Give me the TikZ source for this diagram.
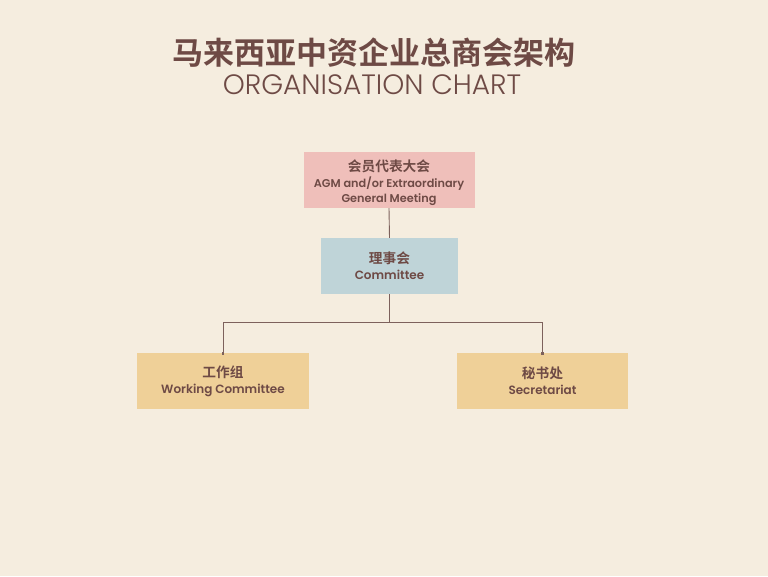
\documentclass[tikz,border=0pt]{standalone}
\usepackage{fontspec}
\usepackage{xcolor}
\usetikzlibrary{arrows.meta}
\setmainfont{Poppins}[BoldFont={Poppins SemiBold}]
\newfontfamily\cjk{Noto Sans CJK SC}[BoldFont={Noto Sans CJK SC Bold}]
\newfontfamily\thinfont{Poppins Light}

\begin{document}
\begin{tikzpicture}[x=1pt,y=-1pt,
	orgbox/.style={minimum height=56pt,align=center,text=INK,inner sep=0pt,font=\bfseries\fontsize{12}{15}\selectfont},
	link/.style={draw=LINE,line width=0.9pt}]
\definecolor{BG}{HTML}{F5EDDF}
\definecolor{INK}{HTML}{6E4A45}
\definecolor{LINE}{HTML}{7D615C}
\definecolor{PNK}{HTML}{EFBFBA}
\definecolor{BLU}{HTML}{BFD4D8}
\definecolor{YLW}{HTML}{EFD098}

% background
\fill[BG] (0,0) rectangle (768,576);

% title
\node[text=INK,font=\cjk\bfseries\fontsize{31}{31}\selectfont] (title) at (374,53) {马来西亚中资企业总商会架构};
\node[text=INK,font=\thinfont\fontsize{28}{28}\selectfont] (subtitle) at (372,85) {ORGANISATION CHART};

% boxes
\node[orgbox,fill=PNK,minimum width=171pt] (agm) at (389,180) {};
\node[orgbox,font=\bfseries\fontsize{11.3}{15}\selectfont] (agmtext) at ([yshift=-3pt]agm.center)
	{{\cjk\fontsize{13.7}{16}\selectfont 会员代表大会}\\[1pt] AGM and/or Extraordinary\\ General Meeting};
\node[orgbox,fill=BLU,minimum width=137pt] (cmt) at (389.5,266)
	{{\cjk\fontsize{13.7}{16}\selectfont 理事会}\\[1pt] Committee};
\node[orgbox,fill=YLW,minimum width=172pt] (wkc) at (223,381)
	{{\cjk\fontsize{13.7}{16}\selectfont 工作组}\\[1pt] Working Committee};
\node[orgbox,fill=YLW,minimum width=171pt] (sec) at (542.5,381)
	{{\cjk\fontsize{13.7}{16}\selectfont 秘书处}\\[1pt] Secretariat};

% connectors
\coordinate (fork) at (389.5,322);
\draw[link] (agm.south) -- (cmt.north);
\draw[link] (cmt.south) -- (fork);
\draw[link,-{Square[length=2.5pt,width=2.5pt]}] (fork) -| ([yshift=-2pt]wkc.north);
\draw[link,-{Square[length=2.5pt,width=2.5pt]}] (fork) -| ([yshift=-2pt]sec.north);

\end{tikzpicture}
\end{document}
